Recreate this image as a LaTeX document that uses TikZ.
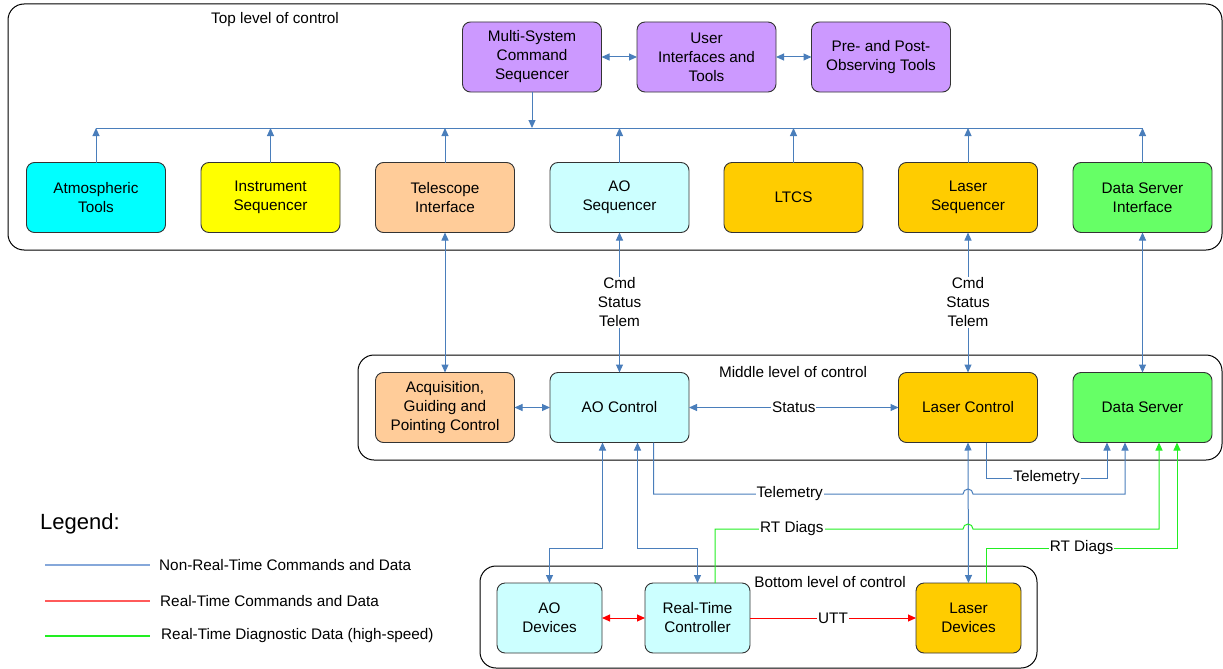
\documentclass[tikz,border=0pt]{standalone}
\usepackage{fontspec}
\setmainfont{Liberation Sans}
\usetikzlibrary{arrows.meta,calc}
\definecolor{nrt}{HTML}{4A7EBB}
\definecolor{diag}{HTML}{22EE22}
\definecolor{legblue}{HTML}{86A8DA}
\definecolor{legred}{HTML}{FF5A5A}
\definecolor{purp}{HTML}{CC99FF}
\definecolor{cyanf}{HTML}{00FFFF}
\definecolor{yellf}{HTML}{FFFF00}
\definecolor{peach}{HTML}{FFCC99}
\definecolor{lcyan}{HTML}{CCFFFF}
\definecolor{gold}{HTML}{FFCC00}
\definecolor{lgreen}{HTML}{66FF66}
\begin{document}
\begin{tikzpicture}[x=1pt,y=1pt,
  >={Triangle[length=8pt,width=7pt]},
  box/.style={draw=black!80, line width=0.9pt, rounded corners=8pt, minimum width=139pt, minimum height=70pt, align=center, inner sep=2pt, outer sep=0pt, font=\fontsize{15.3}{19}\selectfont},
  sbox/.style={box, minimum width=105pt},
  level/.style={draw=black, line width=1pt, rounded corners=16pt, inner sep=0pt, outer sep=0pt},
  lbl/.style={font=\fontsize{15.3}{19}\selectfont, align=center},
  nrtline/.style={draw=nrt, line width=1pt},
  rtline/.style={draw=red, line width=1pt},
  diagline/.style={draw=diag, line width=1pt},
  tag/.style={lbl, fill=white, inner sep=1pt},
]
\useasboundingbox (0,0) rectangle (1223,-669);

% level containers
\node[level, minimum width=1214pt, minimum height=246pt] (toplev) at (615,-127) {};
\node[level, minimum width=864pt, minimum height=105pt] (midlev) at (790,-407.5) {};
\node[level, minimum width=557pt, minimum height=102pt] (botlev) at (758.5,-617) {};
\node[lbl] (toplbl) at (275,-20) {Top level of control};
\node[lbl] (midlbl) at (793,-372) {Middle level of control};
\node[lbl] (botlbl) at (830,-582) {Bottom level of control};

% top boxes
\node[box,fill=purp] (msc) at (532,-57) {Multi-System\\Command\\Sequencer};
\node[box,fill=purp] (ui) at (706.5,-57) {User\\Interfaces and\\Tools};
\node[box,fill=purp] (pp) at (881,-57) {Pre- and Post-\\Observing Tools};

\node[box,fill=cyanf] (atm) at (96,-197.5) {Atmospheric\\Tools};
\node[box,fill=yellf] (ins) at (270.5,-197.5) {Instrument\\Sequencer};
\node[box,fill=peach] (ti) at (445,-197.5) {Telescope\\Interface};
\node[box,fill=lcyan] (aos) at (619.5,-197.5) {AO\\Sequencer};
\node[box,fill=gold] (ltcs) at (793.5,-197.5) {LTCS};
\node[box,fill=gold] (ls) at (968,-197.5) {Laser\\Sequencer};
\node[box,fill=lgreen] (dsi) at (1142.5,-197.5) {Data Server\\Interface};

% middle boxes
\node[box,fill=peach] (acq) at (445,-407.5) {Acquisition,\\Guiding and\\Pointing Control};
\node[box,fill=lcyan] (aoc) at (619.5,-407.5) {AO Control};
\node[box,fill=gold] (lc) at (968,-407.5) {Laser Control};
\node[box,fill=lgreen] (ds) at (1142.5,-407.5) {Data Server};

% bottom boxes
\node[sbox,fill=lcyan] (aod) at (549.5,-618) {AO\\Devices};
\node[sbox,fill=lcyan] (rtc) at (697.5,-618) {Real-Time\\Controller};
\node[sbox,fill=gold] (ld) at (968.5,-618) {Laser\\Devices};

% top bus
\coordinate (busL) at (96,-128);
\coordinate (busR) at (1143,-128);
\draw[nrtline] (busL) -- (busR);
\draw[nrtline,->] (msc.south) -- (msc.south |- busL);
\foreach \n in {atm,ins,ti,aos,ltcs,ls,dsi}
  \draw[nrtline,->] (\n.north) -- (\n.north |- busL);
\draw[nrtline,<->] (msc.east) -- (ui.west);
\draw[nrtline,<->] (ui.east) -- (pp.west);

% top to middle
\draw[nrtline,<->] (ti.south) -- (acq.north);
\draw[nrtline,<->] (aos.south) -- node[tag] (cst1) {Cmd\\Status\\Telem} (aoc.north);
\draw[nrtline,<->] (ls.south) -- node[tag] (cst2) {Cmd\\Status\\Telem} (lc.north);
\draw[nrtline,<->] (dsi.south) -- (ds.north);

% middle level
\draw[nrtline,<->] (acq.east) -- (aoc.west);
\draw[nrtline,<->] (aoc.east) -- node[tag] (stat) {Status} (lc.west);

% middle to bottom
\draw[nrtline,<->] ([xshift=-17pt]aoc.south) -- ++(0,-106) -| (aod.north);
\draw[nrtline,<->] ([xshift=18pt]aoc.south) -- ++(0,-106) -| (rtc.north);
\draw[nrtline,<->] (lc.south) -- (ld.north);

% telemetry
\coordinate (tel1) at (963,-494);
\coordinate (tel2) at (1125,-494);
\draw[nrtline,->] ([xshift=34pt]aoc.south) |- node[tag, pos=0.72] (telA) {Telemetry} (tel1)
   arc[start angle=180,end angle=0,radius=5] -- (tel2) -- ([xshift=-17.5pt]ds.south);
\coordinate (tel3) at (986,-478);
\coordinate (tel4) at (1107,-478);
\draw[nrtline,->] ([xshift=18pt]lc.south) -- (tel3) -- node[tag] (telB) {Telemetry} (tel4) -- ([xshift=-35.5pt]ds.south);

% RT diags
\coordinate (rd1) at (715,-529);
\coordinate (rd2) at (963,-529);
\coordinate (rd3) at (1159,-529);
\draw[diagline,->] ([xshift=17.5pt]rtc.north) -- (rd1) -- node[tag, pos=0.31] (rdA) {RT Diags} (rd2)
   arc[start angle=180,end angle=0,radius=5] -- (rd3) -- ([xshift=16.5pt]ds.south);
\coordinate (rd4) at (986,-548);
\coordinate (rd5) at (1177,-548);
\draw[diagline,->] ([xshift=17.5pt]ld.north) -- (rd4) -- node[tag] (rdB) {RT Diags} (rd5) -- ([xshift=34.5pt]ds.south);

% real-time
\draw[rtline,<->] (aod.east) -- (rtc.west);
\draw[rtline,->] (rtc.east) -- node[tag] (utt) {UTT} (ld.west);

% legend
\node[anchor=west, font=\fontsize{22}{26}\selectfont, inner sep=0pt] (leg) at (40,-524) {Legend:};
\coordinate (l1a) at (45,-565); \coordinate (l1b) at (150,-565);
\coordinate (l2a) at (45,-601); \coordinate (l2b) at (150,-601);
\coordinate (l3a) at (45,-636); \coordinate (l3b) at (150,-636);
\draw[draw=legblue, line width=1.2pt] (l1a) -- (l1b);
\draw[draw=legred, line width=1.2pt] (l2a) -- (l2b);
\draw[draw=diag, line width=1.2pt] (l3a) -- (l3b);
\node[lbl, anchor=west, inner sep=0pt] (leg1) at (159,-565) {Non-Real-Time Commands and Data};
\node[lbl, anchor=west, inner sep=0pt] (leg2) at (160,-601) {Real-Time Commands and Data};
\node[lbl, anchor=west, inner sep=0pt] (leg3) at (161,-636) {Real-Time Diagnostic Data (high-speed)};
\end{tikzpicture}
\end{document}
